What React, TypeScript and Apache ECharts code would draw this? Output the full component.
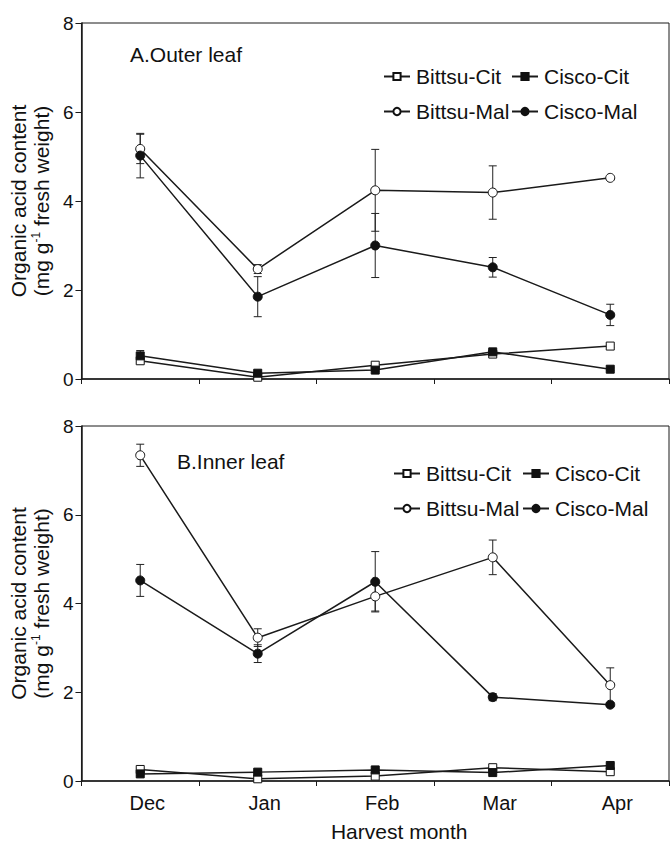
import React, { useEffect, useRef } from 'react';
import * as echarts from 'echarts';

const months = ['Dec', 'Jan', 'Feb', 'Mar', 'Apr'];
const seriesNames = ['Bittsu-Cit', 'Cisco-Cit', 'Bittsu-Mal', 'Cisco-Mal'];

// Panel A: outer leaf
const outerBittsuCit = [0.41, 0.04, 0.31, 0.56, 0.74];
const outerCiscoCit = [0.52, 0.13, 0.2, 0.61, 0.22];
const outerBittsuMal = [5.17, 2.47, 4.24, 4.19, 4.52];
const outerCiscoMal = [5.02, 1.85, 3.0, 2.51, 1.44];
const outerBittsuCitErr = [0.05, 0.02, 0.03, 0.04, 0.03];
const outerCiscoCitErr = [0.12, 0.03, 0.03, 0.04, 0.03];
const outerBittsuMalErr = [0.33, 0.1, 0.92, 0.6, 0.03];
const outerCiscoMalErr = [0.5, 0.45, 0.72, 0.22, 0.24];

// Panel B: inner leaf
const innerBittsuCit = [0.26, 0.05, 0.11, 0.3, 0.21];
const innerCiscoCit = [0.16, 0.2, 0.25, 0.19, 0.35];
const innerBittsuMal = [7.34, 3.23, 4.16, 5.04, 2.16];
const innerCiscoMal = [4.52, 2.87, 4.49, 1.89, 1.72];
const innerBittsuCitErr = [0.03, 0.02, 0.02, 0.03, 0.03];
const innerCiscoCitErr = [0.03, 0.03, 0.03, 0.03, 0.04];
const innerBittsuMalErr = [0.25, 0.2, 0.33, 0.39, 0.39];
const innerCiscoMalErr = [0.36, 0.2, 0.68, 0.08, 0.03];

const FONT = '"Liberation Sans", Arial, sans-serif';
const INK = '#1a1a1a';

const symbolFor: Record<string, { symbol: string; size: number; fill: string }> = {
  'Bittsu-Cit': { symbol: 'rect', size: 8, fill: '#ffffff' },
  'Cisco-Cit': { symbol: 'rect', size: 8, fill: '#111111' },
  'Bittsu-Mal': { symbol: 'circle', size: 9, fill: '#ffffff' },
  'Cisco-Mal': { symbol: 'circle', size: 9, fill: '#111111' },
};

function lineSeries(name: string, values: number[], axisIdx: number) {
  const s = symbolFor[name];
  return {
    type: 'line',
    name,
    xAxisIndex: axisIdx,
    yAxisIndex: axisIdx,
    data: values,
    symbol: s.symbol,
    symbolSize: s.size,
    showSymbol: true,
    z: 5,
    lineStyle: { color: INK, width: 1.5 },
    itemStyle: { color: s.fill, borderColor: '#111111', borderWidth: 1 },
    emphasis: { disabled: true },
  };
}

function errorSeries(name: string, values: number[], errs: number[], axisIdx: number) {
  return {
    type: 'custom',
    name: name + ' error',
    xAxisIndex: axisIdx,
    yAxisIndex: axisIdx,
    z: 3,
    silent: true,
    data: values.map((v, i) => [i, v, errs[i]]),
    encode: { x: 0, y: 1 },
    renderItem: (params: any, api: any) => {
      const x = api.value(0);
      const v = api.value(1);
      const e = api.value(2);
      const top = api.coord([x, v + e]);
      const bot = api.coord([x, v - e]);
      const w = 4;
      const style = { stroke: '#222222', lineWidth: 1 };
      return {
        type: 'group',
        children: [
          { type: 'line', shape: { x1: top[0], y1: top[1], x2: bot[0], y2: bot[1] }, style },
          { type: 'line', shape: { x1: top[0] - w, y1: top[1], x2: top[0] + w, y2: top[1] }, style },
          { type: 'line', shape: { x1: bot[0] - w, y1: bot[1], x2: bot[0] + w, y2: bot[1] }, style },
        ],
      };
    },
  };
}

function legendItem(name: string, left: number, centerY: number) {
  return {
    data: [name],
    left,
    top: centerY - 12,
    padding: 0,
    itemWidth: 26,
    itemHeight: 9,
    selectedMode: false,
    textStyle: { fontSize: 21, color: '#111', fontFamily: FONT, padding: [0, 0, 0, 1] },
  };
}

const yAxisName =
  '{t|Organic acid content}\n{t|(mg g}{s|-1}{t| fresh weight)}';

function yAxis(idx: number) {
  return {
    type: 'value',
    gridIndex: idx,
    min: 0,
    max: 8,
    interval: 2,
    name: yAxisName,
    nameLocation: 'middle',
    nameRotate: 90,
    nameGap: 27,
    nameTextStyle: {
      color: '#111',
      fontFamily: FONT,
      rich: {
        t: { fontSize: 21, lineHeight: 23, fontFamily: FONT, color: '#111' },
        s: { fontSize: 12, lineHeight: 23, fontFamily: FONT, color: '#111', verticalAlign: 'top' },
      },
    },
    axisLine: { show: true, lineStyle: { color: INK, width: 1.5 } },
    axisTick: { show: true, length: 6, lineStyle: { color: INK, width: 1 } },
    axisLabel: { fontSize: 19, color: '#111', fontFamily: FONT, margin: 8 },
    splitLine: { show: false },
  };
}

function xAxis(idx: number, showLabels: boolean) {
  return {
    type: 'category',
    gridIndex: idx,
    data: months,
    boundaryGap: true,
    axisLine: { show: true, lineStyle: { color: INK, width: 1.5 } },
    axisTick: { show: true, length: 5, lineStyle: { color: INK, width: 1 } },
    axisLabel: {
      show: showLabels,
      fontSize: 20,
      color: '#111',
      fontFamily: FONT,
      margin: 12,
      padding: [0, 0, 0, 14],
    },
    splitLine: { show: false },
    name: showLabels ? 'Harvest month' : '',
    nameLocation: 'middle',
    nameGap: 40,
    nameTextStyle: { fontSize: 21, color: '#111', fontFamily: FONT, padding: [0, 0, 0, 48] },
  };
}

export default function App() {
  const ref = useRef<HTMLDivElement>(null);

  useEffect(() => {
    if (!ref.current) return;
    const chart = echarts.init(ref.current, undefined, { renderer: 'svg' });

    const outerVals = [outerBittsuCit, outerCiscoCit, outerBittsuMal, outerCiscoMal];
    const outerErrs = [outerBittsuCitErr, outerCiscoCitErr, outerBittsuMalErr, outerCiscoMalErr];
    const innerVals = [innerBittsuCit, innerCiscoCit, innerBittsuMal, innerCiscoMal];
    const innerErrs = [innerBittsuCitErr, innerCiscoCitErr, innerBittsuMalErr, innerCiscoMalErr];

    const series: any[] = [];
    seriesNames.forEach((n, i) => {
      series.push(errorSeries(n, outerVals[i], outerErrs[i], 0));
      series.push(lineSeries(n, outerVals[i], 0));
    });
    seriesNames.forEach((n, i) => {
      series.push(errorSeries(n, innerVals[i], innerErrs[i], 1));
      series.push(lineSeries(n, innerVals[i], 1));
    });

    chart.setOption({
      animation: false,
      backgroundColor: '#ffffff',
      textStyle: { fontFamily: FONT },
      grid: [
        { left: 80, top: 23, width: 589, height: 356, show: true, borderColor: INK, borderWidth: 1 },
        { left: 80, top: 426, width: 589, height: 356, show: true, borderColor: INK, borderWidth: 1 },
      ],
      xAxis: [xAxis(0, false), xAxis(1, true)],
      yAxis: [yAxis(0), yAxis(1)],
      legend: [
        legendItem('Bittsu-Cit', 383, 78),
        legendItem('Cisco-Cit', 511, 78),
        legendItem('Bittsu-Mal', 383, 113),
        legendItem('Cisco-Mal', 511, 113),
        legendItem('Bittsu-Cit', 393, 475),
        legendItem('Cisco-Cit', 522, 475),
        legendItem('Bittsu-Mal', 393, 510),
        legendItem('Cisco-Mal', 522, 510),
      ],
      graphic: [
        {
          type: 'text',
          left: 130,
          top: 44,
          style: { text: 'A.Outer leaf', fontSize: 21, fill: '#111', fontFamily: FONT },
        },
        {
          type: 'text',
          left: 177,
          top: 451,
          style: { text: 'B.Inner leaf', fontSize: 21, fill: '#111', fontFamily: FONT },
        },
      ],
      series,
    });

    return () => chart.dispose();
  }, []);

  return (
    <div
      ref={ref}
      style={{ position: 'absolute', left: 0, top: 0, width: 670, height: 843, background: '#fff' }}
    />
  );
}
